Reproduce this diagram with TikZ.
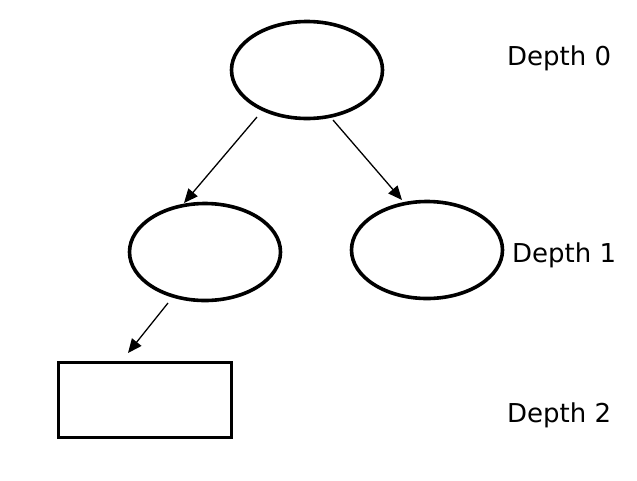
\documentclass[tikz,border=0pt]{standalone}
\usepackage{fontspec}
\setmainfont{DejaVu Sans}
\usetikzlibrary{shapes.geometric,arrows.meta}
\begin{document}
\begin{tikzpicture}[x=1pt,y=-1pt,
  treenode/.style={draw,ellipse,line width=3.6pt,minimum width=151pt,minimum height=97pt,inner sep=0pt},
  leafbox/.style={draw,rectangle,line width=3.6pt,minimum width=173pt,minimum height=75pt,inner sep=0pt},
  edge/.style={line width=1.3pt,-{Triangle[length=14pt,width=12pt]}},
  depthlabel/.style={anchor=base west,inner sep=0pt,font=\fontsize{26}{30}\selectfont}]
\useasboundingbox (0,0) rectangle (637,480);
\node[treenode] (root) at (307,70) {};
\node[treenode] (left) at (205,252) {};
\node[treenode] (right) at (427,250) {};
\node[leafbox] (leaf) at (145,400) {};
\coordinate (s1) at (257,117);
\coordinate (e1) at (184,203);
\coordinate (s2) at (333,120);
\coordinate (e2) at (402,200);
\coordinate (s3) at (168,303);
\coordinate (e3) at (128,353);
\draw[edge] (s1) -- (e1);
\draw[edge] (s2) -- (e2);
\draw[edge] (s3) -- (e3);
\node[depthlabel] (d0) at (507,65) {Depth 0};
\node[depthlabel] (d1) at (512,262) {Depth 1};
\node[depthlabel] (d2) at (507,422) {Depth 2};
\end{tikzpicture}
\end{document}
